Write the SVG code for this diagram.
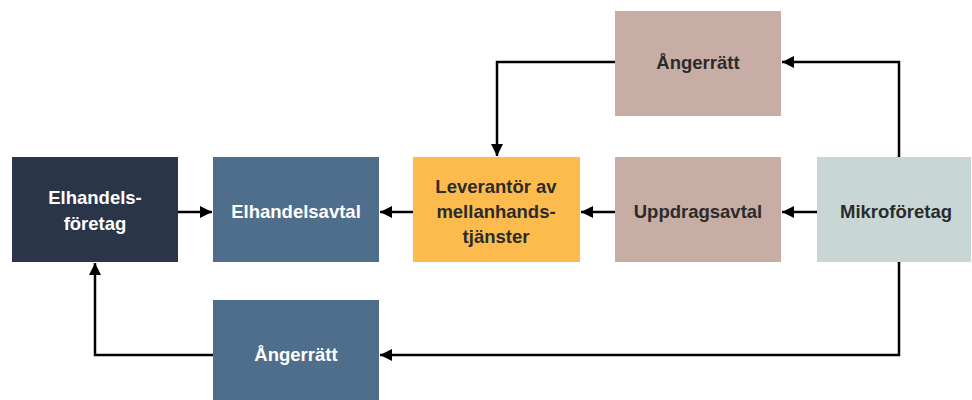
<svg xmlns="http://www.w3.org/2000/svg" width="972" height="400" viewBox="0 0 972 400">
<style>
.t{font-family:"Liberation Sans",Arial,sans-serif;font-weight:bold;font-size:18.5px;text-anchor:middle;dominant-baseline:central}
.w{fill:#ffffff}
.d{fill:#2b2b2b}
.c{fill:none;stroke:#000;stroke-width:2.5}
</style>
<defs>
<marker id="ah" viewBox="0 0 10 10" refX="10" refY="5" markerWidth="4.8" markerHeight="5.2" orient="auto" markerUnits="strokeWidth">
<path d="M0,0 L10,5 L0,10 z" fill="#000"/>
</marker>
</defs>
<rect width="972" height="400" fill="#fff"/>
<g id="connectors">
<path class="c" d="M177,212 H212" marker-end="url(#ah)"/>
<path class="c" d="M413,212 H380" marker-end="url(#ah)"/>
<path class="c" d="M615,212 H581" marker-end="url(#ah)"/>
<path class="c" d="M817,212 H782" marker-end="url(#ah)"/>
<path class="c" d="M899,157 V62 H782" marker-end="url(#ah)"/>
<path class="c" d="M615,62 H497 V156" marker-end="url(#ah)"/>
<path class="c" d="M899,262 V355 H380" marker-end="url(#ah)"/>
<path class="c" d="M213,355 H95 V263" marker-end="url(#ah)"/>
</g>
<g id="elhandelsforetag">
<rect x="12" y="157" width="166" height="105" fill="#2a3549"/>
<text class="t w" x="95" y="197">Elhandels-</text>
<text class="t w" x="95" y="223">företag</text>
</g>
<g id="elhandelsavtal">
<rect x="213" y="157" width="166" height="105" fill="#4e6e8c"/>
<text class="t w" x="296" y="211">Elhandelsavtal</text>
</g>
<g id="leverantor">
<rect x="413" y="157" width="167" height="105" fill="#fdbb4d"/>
<text class="t d" x="496" y="186">Leverantör av</text>
<text class="t d" x="496" y="211">mellanhands-</text>
<text class="t d" x="496" y="236">tjänster</text>
</g>
<g id="uppdragsavtal">
<rect x="615" y="157" width="166" height="105" fill="#c8ada5"/>
<text class="t d" x="698" y="211">Uppdragsavtal</text>
</g>
<g id="mikroforetag">
<rect x="817" y="157" width="154" height="105" fill="#c9d6d6"/>
<text class="t d" x="896" y="211">Mikroföretag</text>
</g>
<g id="angerratt-top">
<rect x="615" y="11" width="166" height="105" fill="#c8ada5"/>
<text class="t d" x="698" y="62">Ångerrätt</text>
</g>
<g id="angerratt-bottom">
<rect x="213" y="300" width="166" height="100" fill="#4e6e8c"/>
<text class="t w" x="296" y="354">Ångerrätt</text>
</g>
</svg>
